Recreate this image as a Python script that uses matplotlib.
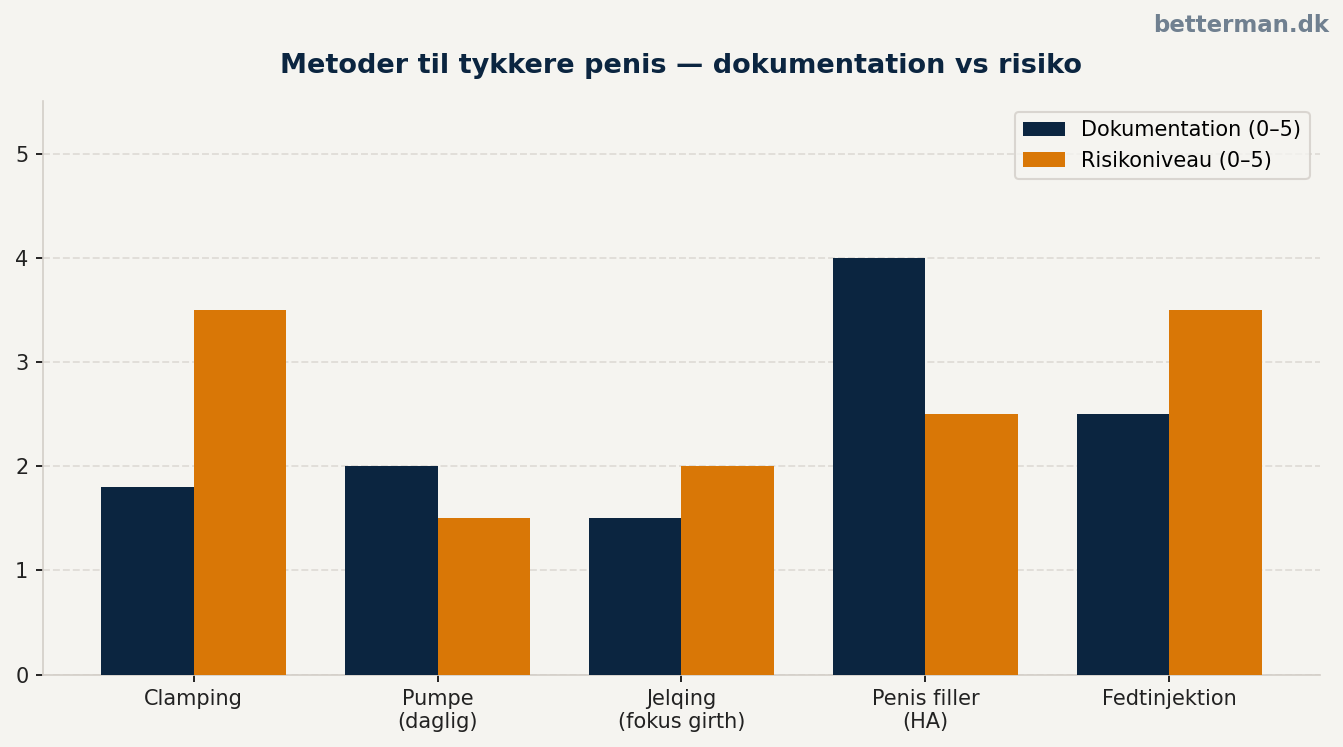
import matplotlib
matplotlib.use("Agg")
import matplotlib.pyplot as plt
import numpy as np

categories = ["Clamping", "Pumpe\n(daglig)", "Jelqing\n(fokus girth)", "Penis filler\n(HA)", "Fedtinjektion"]
dokumentation = [1.8, 2.0, 1.5, 4.0, 2.5]
risiko = [3.5, 1.5, 2.0, 2.5, 3.5]
series_labels = ["Dokumentation (0–5)", "Risikoniveau (0–5)"]

bg = "#f5f4f0"
navy = "#0b2540"
orange = "#d97706"

fig = plt.figure(figsize=(1343/150, 747/150), dpi=150, facecolor=bg)
ax = fig.add_axes([43/1343, 1-674.5/747, (1320-43)/1343, (674.5-101.5)/747])
ax.set_facecolor(bg)

x = np.arange(len(categories))
w = 0.38
ax.bar(x - w/2, dokumentation, w, color=navy, label=series_labels[0], zorder=3)
ax.bar(x + w/2, risiko, w, color=orange, label=series_labels[1], zorder=3)

ax.set_xticks(x)
ax.set_xticklabels(categories, fontsize=10, color="#222222")
ax.set_ylim(0, 5.5)
ax.set_yticks([0, 1, 2, 3, 4, 5])
ax.tick_params(axis="y", labelsize=10, labelcolor="#222222")
ax.grid(axis="y", linestyle="--", color="#e0ddd8", linewidth=0.9, zorder=0)
for s in ["top", "right"]:
    ax.spines[s].set_visible(False)
for s in ["left", "bottom"]:
    ax.spines[s].set_color("#d3cec8")

leg = ax.legend(loc="upper right", fontsize=10, frameon=True, facecolor=bg, edgecolor="#d3cec8")

fig.text((43+1320)/2/1343, 1-66/747, "Metoder til tykkere penis — dokumentation vs risiko",
         ha="center", va="center", fontsize=13, fontweight="bold", color=navy)
fig.text(1329/1343, 1-25.5/747, "betterman.dk", ha="right", va="center",
         fontsize=11, fontweight="bold", color="#708090")

fig.savefig("out.png", dpi=150, facecolor=bg)
